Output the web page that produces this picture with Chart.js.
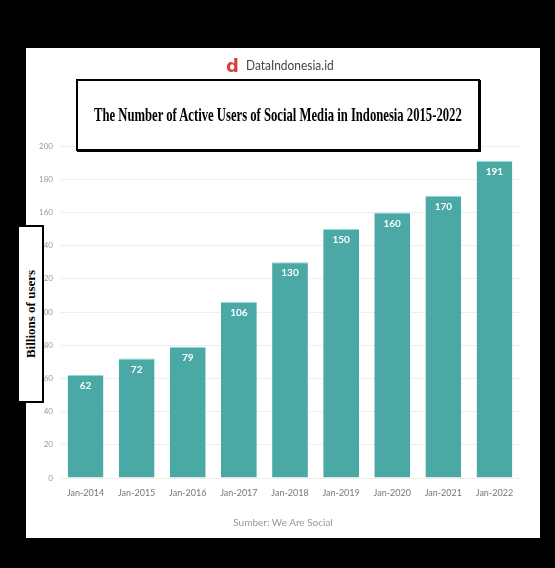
<!DOCTYPE html>
<html>
<head>
<meta charset="utf-8">
<script src="https://cdn.jsdelivr.net/npm/chart.js@4/dist/chart.umd.min.js"></script>
<style>
  html, body { margin: 0; padding: 0; background: #000; }
  body { width: 555px; height: 568px; position: relative; overflow: hidden; }
  #panel { position: absolute; left: 26px; top: 48px; width: 514px; height: 490px; background: #fff; }
  #grafico { position: absolute; left: 0; top: 0; }
  #logo { position: absolute; left: 226px; top: 55px; font-family: 'Lato', sans-serif; font-size: 14px; color: #444; white-space: nowrap; }
  #logo b { color: #d6403a; font-family: 'DejaVu Sans', sans-serif; font-size: 18px; margin-right: 7px; vertical-align: -2px; }
  #logo span { display: inline-block; transform-origin: left center; }
  #titulo { position: absolute; left: 76px; top: 79px; width: 400px; height: 68px; border: 2px solid #000; background: #fff;
            box-shadow: 1px 1px 0 #000; display: flex; align-items: center; justify-content: center; }
  #titulo span { font-family: 'Liberation Serif', 'Times New Roman', serif; font-weight: bold; font-size: 19px; white-space: nowrap; display: inline-block; }
  #eixoY { position: absolute; left: 17px; top: 225px; width: 23px; height: 174px; border: 2px solid #000; background: #fff; }
  #eixoY span { position: absolute; left: 50%; top: 50%; transform: translate(-50%, -50%) rotate(-90deg);
                font-family: 'Liberation Serif', 'Times New Roman', serif; font-weight: bold; font-size: 13px; white-space: nowrap; }
  #fonte { position: absolute; left: 0; width: 566px; top: 516px; text-align: center; font-family: 'Lato', sans-serif; font-size: 10px; color: #999; }
</style>
</head>
<body>
<div id="panel"></div>
<canvas id="grafico" width="555" height="568"></canvas>
<div id="logo"><b>d</b><span>DataIndonesia.id</span></div>
<div id="titulo"><span>The Number of Active Users of Social Media in Indonesia 2015-2022</span></div>
<div id="eixoY"><span>Billions of users</span></div>
<div id="fonte">Sumber: We Are Social</div>
<script>
const categorias = ['Jan-2014', 'Jan-2015', 'Jan-2016', 'Jan-2017', 'Jan-2018', 'Jan-2019', 'Jan-2020', 'Jan-2021', 'Jan-2022'];
const usuarios = [62, 72, 79, 106, 130, 150, 160, 170, 191];
const ticksY = [0, 20, 40, 60, 80, 100, 120, 140, 160, 180, 200];

// squeeze the title and logo text to the widths they have in the picture
const t = document.querySelector('#titulo span');
t.style.transform = 'scaleX(' + (368 / t.offsetWidth) + ')';
const l = document.querySelector('#logo span');
l.style.transform = 'scaleX(' + (88 / l.offsetWidth) + ')';

const rotulos = {
  id: 'rotulos',
  afterDatasetsDraw(chart) {
    const c = chart.ctx;
    const meta = chart.getDatasetMeta(0);
    c.save();
    c.fillStyle = '#fff';
    c.font = 'bold 10px Lato, sans-serif';
    c.textAlign = 'center';
    c.textBaseline = 'middle';
    meta.data.forEach((bar, i) => {
      const p = bar.getProps(['x', 'y'], true);
      c.fillText(usuarios[i], p.x, p.y + 11);
    });
    c.restore();
  }
};

const ctx = document.getElementById('grafico').getContext('2d');
new Chart(ctx, {
  type: 'bar',
  data: {
    labels: categorias,
    datasets: [{
      data: usuarios,
      backgroundColor: '#4aa8a5',
      borderColor: '#8fdcda',
      borderWidth: { top: 1, left: 0, right: 0, bottom: 0 },
      barPercentage: 0.7,
      categoryPercentage: 1
    }]
  },
  options: {
    responsive: false,
    animation: false,
    layout: { padding: { left: 36, right: 35, top: 146, bottom: 60 } },
    plugins: {
      legend: { display: false },
      tooltip: { enabled: false }
    },
    scales: {
      y: {
        min: 0,
        max: 200,
        afterFit(s) { s.width = 24; },
        afterBuildTicks(s) { s.ticks = ticksY.map(v => ({ value: v })); },
        border: { display: false },
        grid: { color: '#eeeeee', drawTicks: false },
        ticks: { color: '#999', padding: 7, font: { family: 'Lato', size: 8 } }
      },
      x: {
        afterFit(s) { s.height = 30; },
        border: { display: false },
        grid: { display: false, drawTicks: false },
        ticks: { color: '#777', padding: 10, font: { family: 'Lato', size: 9 } }
      }
    }
  },
  plugins: [rotulos]
});
</script>
</body>
</html>
